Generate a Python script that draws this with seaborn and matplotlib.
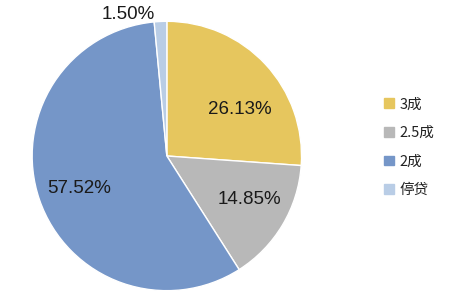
import matplotlib
matplotlib.use("Agg")
import matplotlib.pyplot as plt
import seaborn as sns
import numpy as np

categories = ["3成", "2.5成", "2成", "停贷"]
values = [26.13, 14.85, 57.52, 1.50]
colors = ["#E6C65E", "#B8B8B8", "#7596C8", "#B9CDE6"]

sns.set_theme(style="white")
plt.rcParams['font.family'] = ['Liberation Sans', 'Noto Sans CJK SC', 'DejaVu Sans']

fig = plt.figure(figsize=(4.54, 2.96), dpi=100)
ax = fig.add_axes([0.0705, 0.018, 0.594, 0.910])
wedges, texts, autotexts = ax.pie(
    values, colors=colors, startangle=90, counterclock=False,
    autopct=lambda p: f"{p:.2f}%", pctdistance=0.67,
    wedgeprops=dict(edgecolor="white", linewidth=1),
    textprops=dict(fontsize=13.5, color="#1a1a1a"))
label_pos = [(0.545, 0.345), (0.615, -0.325), (-0.65, -0.245), (-0.29, 1.05)]
for t, p in zip(autotexts, label_pos):
    t.set_position(p)
ax.set_aspect("equal")
ax.set_xlim(-1, 1)
ax.set_ylim(-1, 1)

handles = [plt.Rectangle((0, 0), 1, 1, color=c) for c in colors]
leg = fig.legend(handles, categories, loc="upper left", bbox_to_anchor=(0.818, 0.715),
                 frameon=False, handlelength=0.65, handleheight=0.65, handletextpad=0.4,
                 labelspacing=1.0, prop=dict(family=['Noto Sans CJK SC', 'DejaVu Sans'], size=10.5))
for t in leg.get_texts():
    t.set_color("#222222")

fig.savefig("out.png", dpi=100)
